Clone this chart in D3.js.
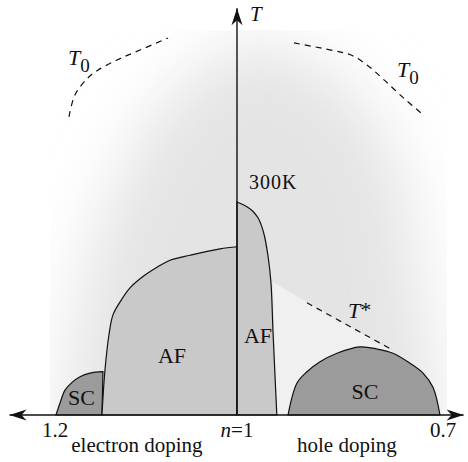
<!DOCTYPE html>
<html>
<head>
<meta charset="utf-8">
<script src="https://cdn.jsdelivr.net/npm/d3@7"></script>
<style>
	body { margin: 0; background: #fff; }
</style>
</head>
<body>
<svg id="chart" width="468" height="462"></svg>
<script>
// phase diagram: doping n (electron side n > 1, hole side n < 1) against temperature T (K)
var afHole = [[1, 300], [0.985, 293], [0.977, 287], [0.969, 277], [0.961, 256], [0.955, 225],
	[0.9505, 186], [0.9476, 118], [0.9447, 56], [0.942, 0]];
var afElectron = [[1, 237], [1.0187, 234], [1.0516, 225], [1.0736, 218], [1.0879, 208], [1.1044, 194],
	[1.1176, 179], [1.1286, 159], [1.1363, 141], [1.1407, 113], [1.1451, 63], [1.1484, 0]];
var scElectron = [[1.1989, 0], [1.1945, 17], [1.189, 35], [1.1813, 46], [1.1725, 54], [1.1615, 59], [1.1473, 61]];
var scHole = [[0.9257, 0], [0.9126, 45], [0.8981, 61], [0.8791, 75], [0.8544, 87], [0.8209, 96], [0.7961, 93],
	[0.7728, 87], [0.7481, 73], [0.7291, 59], [0.7146, 39], [0.7044, 0]];
var tStar = [[0.8981, 158], [0.7743, 92]];
var tStarEdge = [[0.9476, 187], [0.767, 86]];
var t0Electron = [[1.1846, 420], [1.178, 451], [1.1637, 475], [1.1538, 485], [1.1319, 500], [1.1066, 514], [1.0758, 531]];
var t0Hole = [[0.917, 524], [0.8631, 514], [0.834, 507], [0.8107, 493], [0.7859, 472], [0.7568, 446], [0.7291, 423]];
// soft grey crossover region
var crossover = [[1.1725, -80], [1.1725, 162], [1.1396, 303], [1.0956, 415], [1.0407, 486], [1, 521],
	[0.9083, 507], [0.8209, 444], [0.7626, 345], [0.7408, 232], [0.7335, -80]];
var tickLabels = ["1.2", "n=1", "0.7"];
var tickValues = [1.2, 1, 0.7];

var svg = d3.select("#chart");

var x = d3.scaleLinear().domain([1.2, 1, 0.7]).range([55, 237, 443]);
var y = d3.scaleLinear().domain([0, 300]).range([415, 202]);

var smooth = d3.line()
	.x(function(d) { return x(d[0]); })
	.y(function(d) { return y(d[1]); })
	.curve(d3.curveCatmullRom.alpha(0.5));
var straight = d3.line()
	.x(function(d) { return x(d[0]); })
	.y(function(d) { return y(d[1]); });

function closeTo(path, n) {
	return path + "L" + x(n) + "," + y(0) + "Z";
}

var defs = svg.append("defs");
defs.append("filter")
	.attr("id", "soft")
	.attr("x", "-50%").attr("y", "-50%")
	.attr("width", "200%").attr("height", "200%")
  .append("feGaussianBlur")
	.attr("stdDeviation", 32);
defs.append("clipPath")
	.attr("id", "panel")
  .append("rect")
	.attr("x", x(1.2055))
	.attr("y", y(542))
	.attr("width", x(0.6942) - x(1.2055))
	.attr("height", y(0) - y(542));

// background shading
svg.append("g")
	.attr("clip-path", "url(#panel)")
  .append("path")
	.attr("d", d3.line()
		.x(function(d) { return x(d[0]); })
		.y(function(d) { return y(d[1]); })
		.curve(d3.curveCatmullRomClosed.alpha(0.5))(crossover))
	.attr("fill", "#e4e4e4")
	.attr("filter", "url(#soft)");

// lighter wedge under T*
svg.append("path")
	.attr("d", straight([tStarEdge[0], tStarEdge[1], [0.7044, 0], [0.942, 0]]) + "Z")
	.attr("fill", "#f0f0f0");

var regions = svg.append("g")
	.attr("stroke", "#111")
	.attr("stroke-width", 1.2);

regions.append("path")
	.attr("d", closeTo(smooth(scElectron), 1.1484))
	.attr("fill", "#9b9b9b");
regions.append("path")
	.attr("d", smooth(scHole) + "Z")
	.attr("fill", "#9b9b9b");
regions.append("path")
	.attr("d", closeTo(smooth(afElectron), 1))
	.attr("fill", "#c9c9c9");
regions.append("path")
	.attr("d", closeTo(smooth(afHole), 1))
	.attr("fill", "#c9c9c9");

var dashed = svg.append("g")
	.attr("fill", "none")
	.attr("stroke", "#111")
	.attr("stroke-width", 1.2)
	.attr("stroke-dasharray", "6,5");
dashed.append("path").attr("d", smooth(t0Electron));
dashed.append("path").attr("d", smooth(t0Hole));
dashed.append("path").attr("d", straight(tStar));

// axes with arrowheads
var axes = svg.append("g");
axes.append("line")
	.attr("x1", x(1.25)).attr("x2", x(0.67))
	.attr("y1", y(0)).attr("y2", y(0))
	.attr("stroke", "#111").attr("stroke-width", 1.4);
axes.append("line")
	.attr("x1", x(1)).attr("x2", x(1))
	.attr("y1", y(0)).attr("y2", y(573))
	.attr("stroke", "#111").attr("stroke-width", 1.4);

function arrow(px, py, angle) {
	axes.append("path")
		.attr("d", "M0,0L-17,-5.5L-12,0L-17,5.5Z")
		.attr("transform", "translate(" + px + "," + py + ") rotate(" + angle + ")")
		.attr("fill", "#111");
}
arrow(x(1.25), y(0), 180);
arrow(x(0.67), y(0), 0);
arrow(x(1), y(573), -90);

// tick labels along the doping axis
var ticks = svg.append("g")
	.attr("font-size", 21)
	.attr("fill", "#111")
	.attr("text-anchor", "middle");
ticks.selectAll("text")
	.data(tickValues)
	.enter().append("text")
	.attr("x", function(d) { return x(d); })
	.attr("y", 437)
	.each(function(d, i) {
		var t = d3.select(this);
		if (d === 1) {
			t.append("tspan").attr("font-style", "italic").text("n");
			t.append("tspan").text(tickLabels[i].slice(1));
		} else {
			t.text(tickLabels[i]);
		}
	});

var labels = svg.append("g")
	.attr("font-size", 21)
	.attr("fill", "#111");
labels.append("text").attr("x", x(1.11)).attr("y", 452).attr("text-anchor", "middle").text("electron doping");
labels.append("text").attr("x", x(0.84)).attr("y", 452).attr("text-anchor", "middle").text("hole doping");
labels.append("text").attr("x", x(1) + 13).attr("y", 21).attr("font-style", "italic").text("T");
labels.append("text").attr("x", x(1) + 12).attr("y", 189).attr("font-size", 20).attr("letter-spacing", 1).text("300K");

function subLabel(px, py, sub) {
	var t = labels.append("text").attr("x", px).attr("y", py);
	t.append("tspan").attr("font-style", "italic").attr("font-size", 22).text("T");
	t.append("tspan").attr("dy", sub === "*" ? -1 : 7).attr("font-size", sub === "*" ? 22 : 19).text(sub);
}
subLabel(68, 65, "0");
subLabel(397, 77, "0");
subLabel(348, 318, "*");

var names = svg.append("g")
	.attr("font-size", 22)
	.attr("fill", "#111")
	.attr("text-anchor", "middle");
names.append("text").attr("x", 172).attr("y", 363).text("AF");
names.append("text").attr("x", 258).attr("y", 343).text("AF");
names.append("text").attr("x", 81.5).attr("y", 405).text("SC");
names.append("text").attr("x", 365).attr("y", 399).text("SC");

// serif face on every text element
svg.selectAll("text").style("font-family", "'Liberation Serif'");
</script>
</body>
</html>
